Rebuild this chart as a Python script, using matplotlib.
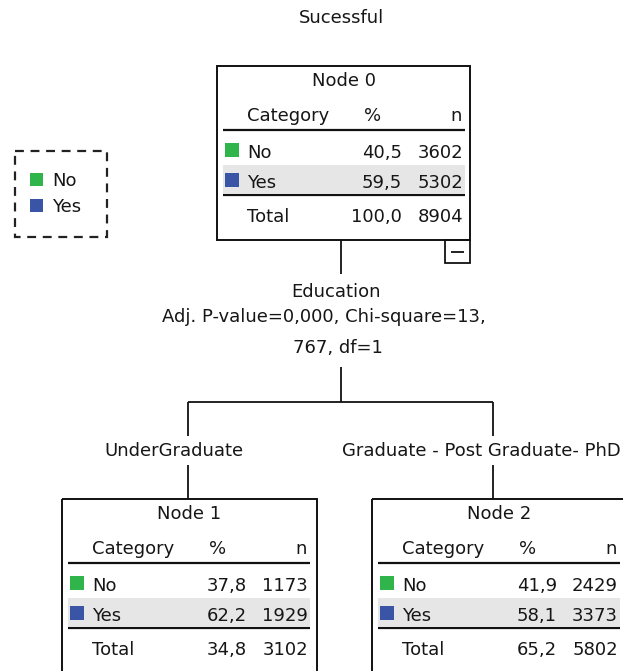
import matplotlib
matplotlib.use("Agg")
import matplotlib.pyplot as plt
from matplotlib.patches import Rectangle

# ---- data ----
title = "Sucessful"
categories = ["No", "Yes"]
node_names = ["Node 0", "Node 1", "Node 2"]
pct_no = [40.5, 37.8, 41.9]
pct_yes = [59.5, 62.2, 58.1]
n_no = [3602, 1173, 2429]
n_yes = [5302, 1929, 3373]
total_pct = [100.0, 34.8, 65.2]
total_n = [8904, 3102, 5802]
split_variable = "Education"
split_stats = ["Adj. P-value=0,000, Chi-square=13,", "767, df=1"]
branch_labels = ["UnderGraduate", "Graduate - Post Graduate- PhD"]

# ---- style ----
cat_colors = ["#2fb54a", "#3a55a6"]
row_gray = "#e6e6e6"
txt = "#161616"
FS = 13.0
FONT = "DejaVu Sans"

W, H = 623, 671
fig = plt.figure(figsize=(W / 100, H / 100), dpi=100)
ax = fig.add_axes([0, 0, 1, 1])
ax.set_xlim(0, W)
ax.set_ylim(H, 0)
ax.axis("off")


def t(x, y, s, ha="left", **kw):
    ax.text(x, y, s, ha=ha, va="center", fontsize=FS, family=FONT, color=txt, **kw)


def fmt(v):
    return f"{v:.1f}".replace(".", ",")


def line(xs, ys, lw=1.3):
    ax.plot(xs, ys, color="#111111", lw=lw, solid_capstyle="butt")


def node(i, L, T, Wd, Hd):
    ax.add_patch(Rectangle((L, T), Wd, Hd, fill=False, ec="#111111", lw=1.4))
    t(L + Wd / 2, T + 15, node_names[i], ha="center")
    t(L + 30, T + 50, "Category")
    t(L + 156, T + 50, "%", ha="center")
    t(L + 245, T + 50, "n", ha="right")
    line([L + 6, L + 248], [T + 64, T + 64], lw=1.6)
    ax.add_patch(Rectangle((L + 6, T + 99), 242, 28, fc=row_gray, ec="none"))
    rows = [(T + 87, pct_no[i], n_no[i]), (T + 117, pct_yes[i], n_yes[i])]
    for k, (y, p, n) in enumerate(rows):
        ax.add_patch(Rectangle((L + 8, y - 10), 14, 14, fc=cat_colors[k], ec="none"))
        t(L + 30, y, categories[k])
        t(L + 185, y, fmt(p), ha="right")
        t(L + 246, y, str(n), ha="right")
    line([L + 6, L + 248], [T + 129, T + 129], lw=1.6)
    t(L + 30, T + 151, "Total")
    t(L + 185, T + 151, fmt(total_pct[i]), ha="right")
    t(L + 246, T + 151, str(total_n[i]), ha="right")


# title
t(342, 18, title, ha="center")

# root node
node(0, 217, 66, 253, 174)
ax.add_patch(Rectangle((445, 240), 25, 23, fill=False, ec="#111111", lw=1.3))
line([451, 464], [251.5, 251.5], lw=1.3)

# split info
line([341, 341], [240, 274])
t(336, 292, split_variable, ha="center")
t(324, 317, split_stats[0], ha="center")
t(338, 348, split_stats[1], ha="center")
line([341, 341], [367, 402])
line([188, 493], [402, 402])
for x, lab, lx, ha in [(188, branch_labels[0], 174, "center"),
                       (493, branch_labels[1], 342, "left")]:
    line([x, x], [402, 436])
    line([x, x], [465, 499])
    t(lx, 451, lab, ha=ha)

# child nodes
node(1, 62, 499, 255, 180)
node(2, 372, 499, 255, 180)

# legend
ax.add_patch(Rectangle((15, 151), 92, 86, fill=False, ec="#222222", lw=1.6,
                       ls=(0, (4, 3))))
for k, y in enumerate([181, 207]):
    ax.add_patch(Rectangle((30, y - 8), 13, 13, fc=cat_colors[k], ec="none"))
    t(52, y, categories[k])

fig.savefig("out.png", dpi=100)
